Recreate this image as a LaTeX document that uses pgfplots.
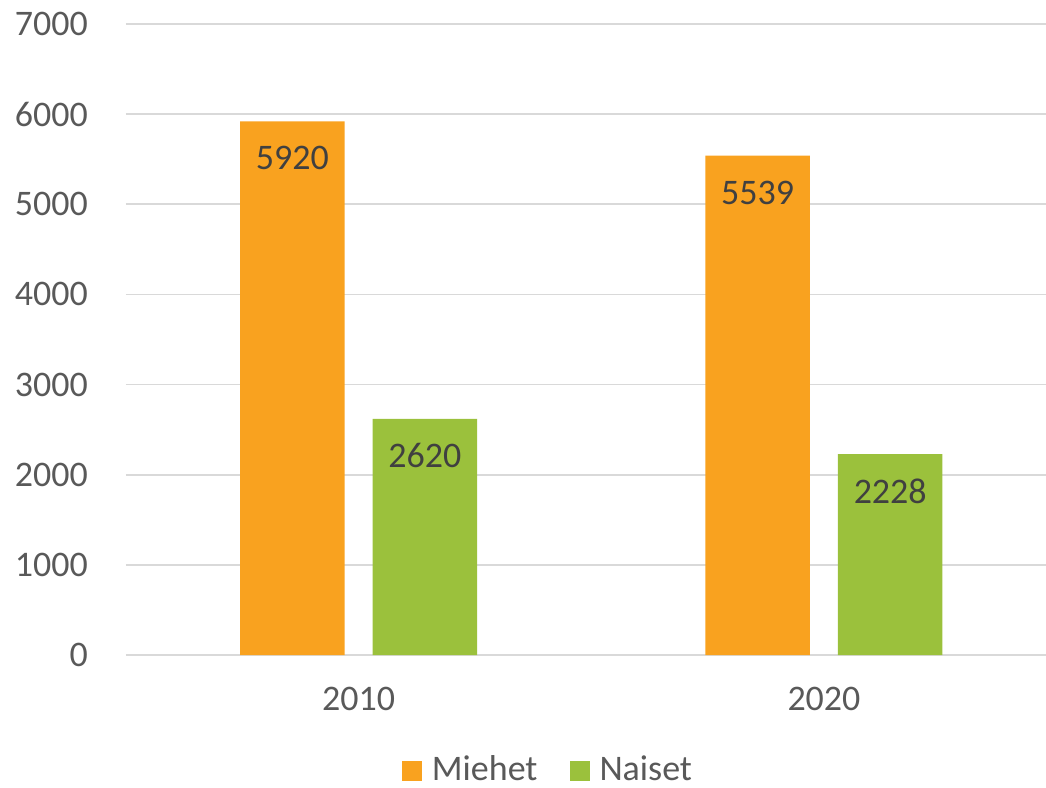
\documentclass[border=0pt]{standalone}
\usepackage{pgfplots}
\pgfplotsset{compat=1.18}
\usepackage{fontspec}
\setmainfont{Carlito}

\definecolor{mieorange}{HTML}{F9A21F}
\definecolor{naigreen}{HTML}{9BC13C}
\definecolor{gridc}{HTML}{D9D9D9}
\definecolor{tickc}{HTML}{595959}
\definecolor{labc}{HTML}{404040}

\begin{document}
\fontsize{36.1}{43}\selectfont
\begin{tikzpicture}
\useasboundingbox (-126bp,-133bp) rectangle (920bp,655bp);
\begin{axis}[
    scale only axis,
    width=920bp, height=631bp,
    xmin=-0.5, xmax=1.4772,
    ymin=0, ymax=7000,
    xtick={0,1}, xticklabels={2010,2020},
    ytick={0,1000,...,7000},
    ymajorgrids=true,
    grid style={gridc, line width=1.6bp},
    axis x line=bottom, axis y line=left,
    x axis line style={gridc, line width=1.6bp, -},
    y axis line style={draw=none},
    major tick length=0pt,
    /pgf/number format/assume math mode=true,
    /pgf/number format/1000 sep={},
    ticklabel style={font=\fontsize{36.1}{43}\selectfont, text=tickc},
    yticklabel style={xshift=-26bp},
    xticklabel style={yshift=-20bp},
    ybar, bar width=0.2246,
    nodes near coords,
    every node near coord/.append style={font=\fontsize{36.1}{43}\selectfont, text=labc, anchor=center, yshift=-37bp},
    legend style={draw=none, at={(0.4587,-0.1838)}, anchor=center,
        font=\fontsize{36.1}{43}\selectfont, text=tickc, legend columns=2,
        /tikz/every even column/.append style={column sep=30bp}},
    legend image code/.code={\fill[#1] (0bp,-10bp) rectangle (20bp,10bp); \path (28bp,0bp);},
]
\addplot[fill=mieorange, draw=none, bar shift=-0.1424] coordinates {(0,5920) (1,5539)};
\addplot[fill=naigreen, draw=none, bar shift=0.1424] coordinates {(0,2620) (1,2228)};
\legend{Miehet, Naiset}
\end{axis}
\end{tikzpicture}
\end{document}
